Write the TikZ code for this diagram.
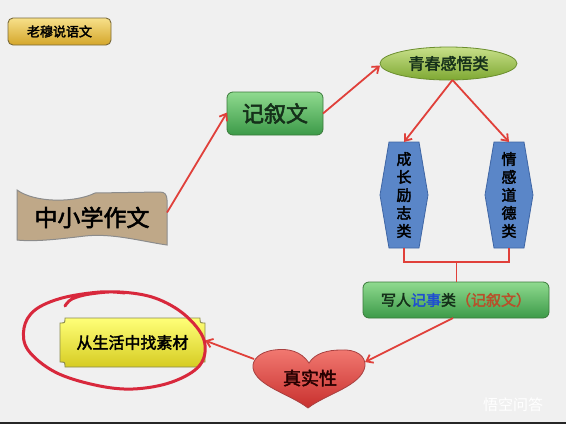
\documentclass[tikz,border=0pt]{standalone}
\usepackage{fontspec}
\newfontfamily\cjk{Noto Sans CJK SC}
\newfontfamily\cjkb[FakeBold=2.4]{Noto Sans CJK SC}
\usetikzlibrary{arrows.meta,shapes.geometric,calc}
\definecolor{bg}{HTML}{F0F0F0}
\definecolor{arrowred}{HTML}{E0403A}
\definecolor{loopred}{HTML}{D8283C}
\definecolor{goldtop}{HTML}{F7E08A}
\definecolor{goldbot}{HTML}{D4A62A}
\definecolor{goldline}{HTML}{7A6A3A}
\definecolor{greentop}{HTML}{8FDA8F}
\definecolor{greenbot}{HTML}{3C9A48}
\definecolor{greenline}{HTML}{3A7A3A}
\definecolor{limetop}{HTML}{C8E08A}
\definecolor{limebot}{HTML}{7EA832}
\definecolor{limeline}{HTML}{6B8E2E}
\definecolor{hexfill}{HTML}{5A86C8}
\definecolor{hexline}{HTML}{3F66A5}
\definecolor{hearttop}{HTML}{F27A72}
\definecolor{heartbot}{HTML}{C8302E}
\definecolor{heartline}{HTML}{A84040}
\definecolor{yeltop}{HTML}{FFFF78}
\definecolor{yelbot}{HTML}{D6CC22}
\definecolor{yelline}{HTML}{8A8A50}
\definecolor{tan}{HTML}{BFA888}
\definecolor{tanline}{HTML}{8C8C8C}
\definecolor{darkgreen}{HTML}{15301A}
\definecolor{storyblue}{HTML}{1F4FD0}
\definecolor{storybrown}{HTML}{B8502A}
\begin{document}
\begin{tikzpicture}[x=1pt,y=-1pt,
  redarrow/.style={draw=arrowred,line width=1.8pt,-{Straight Barb[length=6pt,width=9pt]}},
  redline/.style={draw=arrowred,line width=1.8pt},
  plain/.style={inner sep=0pt,outer sep=0pt},
  greenbox/.style={plain,rounded corners=6pt,draw=greenline,line width=0.8pt,top color=greentop,bottom color=greenbot},
  hexbox/.style={plain,minimum width=48pt,minimum height=106pt,align=center,font=\cjkb\fontsize{15}{18}\selectfont},
  hexshape/.style={fill=hexfill,draw=hexline,line width=0.8pt}
]
\fill[bg] (0,0) rectangle (566,424);
\useasboundingbox (0,0) rectangle (566,424);
\fill[black!85] (0,422) rectangle (566,424);

% title
\node[plain,rounded corners=5pt,draw=goldline,line width=0.9pt,top color=goldtop,bottom color=goldbot,
  minimum width=103pt,minimum height=27pt,font=\cjkb\fontsize{13}{13}\selectfont] (title) at (59.5,31.5) {老穆说语文};

% flag shape 中小学作文
\path[fill=tan,draw=tanline,line width=1pt]
  (17,190) .. controls (35,203) and (75,203) .. (95,193) -- (160,192)
  .. controls (165,192) and (167,195) .. (167,200) -- (167,245)
  .. controls (140,241) and (112,233) .. (85,236)
  .. controls (60,239) and (35,242) .. (17,240) -- cycle;
\node[plain,minimum width=150pt,minimum height=55pt,font=\cjkb\fontsize{23}{23}\selectfont] (essay) at (92,217.5) {中小学作文};

% 记叙文
\node[greenbox,minimum width=96pt,minimum height=43pt,font=\cjkb\fontsize{22}{22}\selectfont,text=darkgreen] (narr) at (275,113.5) {记叙文};

% ellipse 青春感悟类
\node[plain,ellipse,draw=limeline,line width=0.8pt,top color=limetop,bottom color=limebot,
  minimum width=137pt,minimum height=33pt,font=\cjkb\fontsize{16}{16}\selectfont,text=darkgreen] (youth) at (448.5,63.5) {青春感悟类};

% hexagons
\node[hexbox] (growth) at (404,195) {};
\path[hexshape] ([xshift=9pt]growth.north west) -- ([xshift=-9pt]growth.north east) -- (growth.east)
  -- ([xshift=-9pt]growth.south east) -- ([xshift=9pt]growth.south west) -- (growth.west) -- cycle;
\node[hexbox] at (growth) {成\\长\\励\\志\\类};
\node[hexbox] (emotion) at (509,195) {};
\path[hexshape] ([xshift=9pt]emotion.north west) -- ([xshift=-9pt]emotion.north east) -- (emotion.east)
  -- ([xshift=-9pt]emotion.south east) -- ([xshift=9pt]emotion.south west) -- (emotion.west) -- cycle;
\node[hexbox] at (emotion) {情\\感\\道\\德\\类};

% 写人记事类（记叙文）
\node[greenbox,minimum width=186pt,minimum height=36pt,font=\cjkb\fontsize{15}{15}\selectfont,text=darkgreen] (story) at (456,300)
  {写人\textcolor{storyblue}{记事}类\textcolor{storybrown}{（记叙文）}};

% heart
\path[draw=heartline,line width=0.8pt,top color=hearttop,bottom color=heartbot]
  (309,363) .. controls (301,351) and (288,348) .. (274,350)
  .. controls (259,352) and (252,360) .. (253,368)
  .. controls (256,386) and (290,394) .. (308,408)
  .. controls (326,394) and (362,386) .. (365,366)
  .. controls (366,356) and (356,349) .. (341,350)
  .. controls (328,350) and (315,353) .. (309,363) -- cycle;
\node[plain,font=\cjkb\fontsize{18}{18}\selectfont,text={black!85!red}] (truth) at (310,378) {真实性};
\coordinate (heartR) at (365,362);
\coordinate (heartL) at (254,359);

% plaque 从生活中找素材
\path[draw=yelline,line width=0.9pt,top color=yeltop,bottom color=yelbot]
  (65,318) -- (200,318) .. controls (200,323) .. (205,323) -- (205,362)
  .. controls (200,362) .. (200,367) -- (65,367) .. controls (65,362) .. (60,362)
  -- (60,323) .. controls (65,323) .. (65,318) -- cycle;
\node[plain,minimum width=145pt,minimum height=49pt,font=\cjkb\fontsize{16}{16}\selectfont] (source) at (132.5,342.5) {从生活中找素材};

% connectors
\draw[redarrow] ([yshift=5pt]essay.east) -- ([yshift=1pt]narr.west);
\draw[redarrow] (narr.east) -- ([yshift=-2pt]youth.west);
\draw[redarrow] ([xshift=4pt]youth.south) -- (growth.north);
\draw[redarrow] ([xshift=4pt]youth.south) -- (emotion.north);
\draw[redline] (growth.south) -- ++(0,14) coordinate (joinL) -| (emotion.south);
\coordinate (join) at ($(joinL)!0.5!(joinL -| emotion.south)$);
\draw[redline] (join) -- (join |- story.north);
\draw[redarrow] ([xshift=-3pt]story.south) -- (heartR);
\draw[redarrow] (heartL) -- ([yshift=2pt]source.east);

% hand-drawn loop
\draw[loopred,line width=3pt,line cap=round,line join=round] plot[smooth,tension=0.6] coordinates {
  (65,306) (72,299) (90,294) (120,292) (155,298) (185,315) (204,340) (200,365) (172,382)
  (133,389) (95,385) (55,372) (28,350) (24,328) (35,310) (62,298) (100,292) (125,293)};

% watermark
\node[plain,font=\cjk\fontsize{15}{15}\selectfont,text=white] (wm) at (513,405) {悟空问答};
\end{tikzpicture}
\end{document}
